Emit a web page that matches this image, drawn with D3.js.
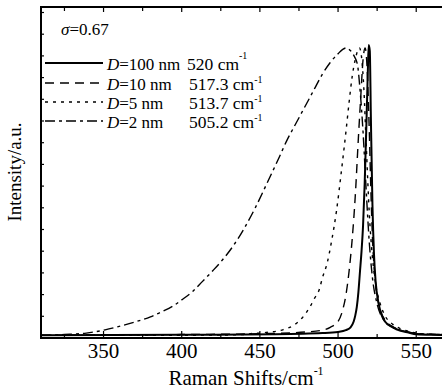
<!DOCTYPE html>
<html><head><meta charset="utf-8">
<script src="https://cdn.jsdelivr.net/npm/d3@7"></script>
<style>body{margin:0;background:#fff}svg{display:block}</style>
</head><body><svg id="c" width="442" height="390" font-family="'Liberation Serif', 'DejaVu Serif', serif"></svg>
<script>
// Data (normalized intensity)
const x100 = [310,400,460,490,500,505,508,510,511,512,513,514,515,516,517,518,519,519.6,520.3,521,522,523,524,526,528,530,535,540,545,550,560,578];
const y100 = [0.003,0.004,0.006,0.01,0.014,0.02,0.03,0.05,0.07,0.1,0.15,0.22,0.29,0.38,0.52,0.7,0.9,1.0,0.98,0.75,0.45,0.28,0.19,0.11,0.07,0.05,0.03,0.018,0.012,0.006,0.004,0.003];
const x10 = [310,400,450,480,490,495,500,503,505,507,509,511,513,514.5,516,517.3,518.5,520,521,522,524,526,528,530,535,540,545,550,560,578];
const y10 = [0.003,0.005,0.008,0.014,0.02,0.03,0.05,0.09,0.14,0.22,0.33,0.48,0.68,0.82,0.95,0.99,0.93,0.7,0.5,0.34,0.18,0.11,0.075,0.055,0.032,0.02,0.013,0.008,0.005,0.004];
const x5 = [310,420,440,444,454,465,472,477,482,485,488,490,493,496,499,502,505,507,509,511,512.5,513.7,515,516.5,518,520,522,524,527,530,535,540,545,550,560,578];
const y5 = [0.002,0.003,0.005,0.008,0.012,0.022,0.038,0.062,0.1,0.13,0.16,0.2,0.25,0.33,0.43,0.56,0.7,0.8,0.89,0.95,0.98,0.99,0.96,0.85,0.66,0.42,0.27,0.18,0.11,0.07,0.04,0.025,0.016,0.01,0.006,0.004];
const x2 = [310,325,339,351,360,370,380,388,395,400,407,413,420,426,433,440,447,455,462,468,472,478,484,490,495,500,503,505.2,508,510.5,512.5,514,516,518,520,522,525,530,535,540,545,550,560,578];
const y2 = [0.002,0.005,0.01,0.021,0.033,0.048,0.066,0.085,0.105,0.124,0.153,0.186,0.225,0.261,0.31,0.37,0.44,0.53,0.61,0.68,0.72,0.78,0.84,0.9,0.94,0.97,0.985,0.99,0.98,0.96,0.93,0.85,0.7,0.5,0.32,0.2,0.11,0.05,0.03,0.02,0.013,0.009,0.006,0.004];
const series = [
  {label:"100 nm", peak:"520 cm", xs:x100, ys:y100, dash:null, w:2},
  {label:"10 nm", peak:"517.3 cm", xs:x10, ys:y10, dash:"9,6", w:1.4},
  {label:"5 nm", peak:"513.7 cm", xs:x5, ys:y5, dash:"3,5", w:1.4},
  {label:"2 nm", peak:"505.2 cm", xs:x2, ys:y2, dash:"10,4,3,4", w:1.4}
];
const xTicks = [350,400,450,500,550];

const svg = d3.select("#c");
const L=41, T=7, R=470, B=338;
const x = d3.scaleLinear().domain([310,578]).range([L,460]);
const y = d3.scaleLinear().domain([0,1]).range([336,45]);

// curves
const line = d3.line().x((d)=>x(d[0])).y((d)=>y(d[1])).curve(d3.curveMonotoneX);
const g = svg.append("g");
series.slice().reverse().forEach(s=>{
  g.append("path").datum(s.xs.map((v,i)=>[v,s.ys[i]]))
   .attr("d",line).attr("fill","none").attr("stroke","#000")
   .attr("stroke-width",s.w).attr("stroke-dasharray",s.dash);
});

// axes frame
svg.append("line").attr("x1",L).attr("x2",L).attr("y1",T).attr("y2",B).attr("stroke","#000").attr("stroke-width",2);
svg.append("line").attr("x1",L-1).attr("x2",R).attr("y1",B).attr("y2",B).attr("stroke","#000").attr("stroke-width",2);
svg.append("line").attr("x1",L-1).attr("x2",R).attr("y1",T).attr("y2",T).attr("stroke","#000").attr("stroke-width",2);

// x ticks
const minor = d3.range(325,580,50);
const tk = svg.append("g").attr("stroke","#000").attr("stroke-width",1.2);
xTicks.forEach(v=>{tk.append("line").attr("x1",x(v)).attr("x2",x(v)).attr("y1",B).attr("y2",B-7);
  tk.append("line").attr("x1",x(v)).attr("x2",x(v)).attr("y1",T).attr("y2",T+5);});
minor.forEach(v=>{tk.append("line").attr("x1",x(v)).attr("x2",x(v)).attr("y1",B).attr("y2",B-4);
  tk.append("line").attr("x1",x(v)).attr("x2",x(v)).attr("y1",T).attr("y2",T+4);});
// y minor ticks (no labels)
d3.range(B-21.7, T+2, -21.7).forEach(py=>{
  tk.append("line").attr("x1",L).attr("x2",L+3).attr("y1",py).attr("y2",py);
});
svg.selectAll(".xl").data(xTicks).enter().append("text")
  .attr("x",d=>x(d)).attr("y",358).attr("text-anchor","middle").attr("font-size",21).text(d=>d);

// axis titles
const xt = svg.append("text").attr("x",246).attr("y",385).attr("text-anchor","middle").attr("font-size",21);
xt.append("tspan").text("Raman Shifts/cm");
xt.append("tspan").attr("dy",-10).attr("font-size",12).text("-1");
svg.append("text").attr("transform","translate(21,172) rotate(-90)").attr("text-anchor","middle")
  .attr("font-size",19).text("Intensity/a.u.");

// legend
const sg = svg.append("text").attr("x",61).attr("y",35).attr("font-size",17);
sg.append("tspan").attr("font-style","italic").text("σ");
sg.append("tspan").text("=0.67");
const rows=[63,83,102,121];
series.forEach((s,i)=>{
  const ry=rows[i];
  svg.append("line").attr("x1",45).attr("x2",103).attr("y1",ry).attr("y2",ry)
    .attr("stroke","#000").attr("stroke-width",s.w).attr("stroke-dasharray",s.dash);
  const t=svg.append("text").attr("x",107).attr("y",ry+7).attr("font-size",17);
  t.append("tspan").attr("font-style","italic").text("D");
  t.append("tspan").text("="+s.label);
  const p=svg.append("text").attr("x",i==0?187:189).attr("y",ry+7).attr("font-size",17.5);
  p.append("tspan").text(s.peak);
  p.append("tspan").attr("dy",i==0?-11:-7).attr("font-size",10).text("-1");
});
</script></body></html>
